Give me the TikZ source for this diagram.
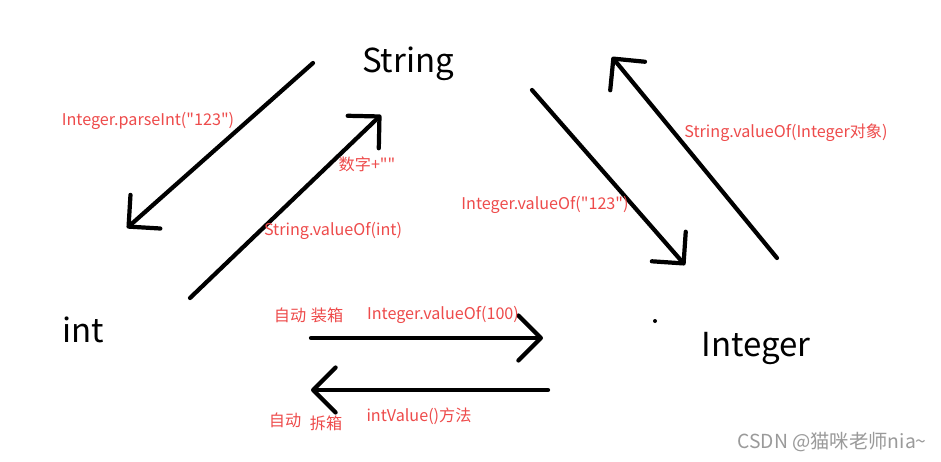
\documentclass[tikz,border=0pt]{standalone}
\usepackage{fontspec}
\usepackage{xcolor}
\usetikzlibrary{arrows.meta}
\setmainfont{Noto Sans CJK SC}[Ligatures=TeXOff]
\definecolor{labelred}{HTML}{EE4B4B}
\definecolor{markgray}{HTML}{9A9A9A}
\tikzset{
  typename/.style={font=\fontsize{18.8}{22}\selectfont, inner sep=0pt},
  convlabel/.style={font=\fontsize{9.2}{11}\selectfont, text=labelred, inner sep=0pt},
  convarrow/.style={line width=2.4pt, line cap=round,
                    -{Straight Barb[length=4.5mm, width=9mm, line cap=round, round]}},
}

\begin{document}
\begin{tikzpicture}[x=0.02cm, y=-0.02cm]
    \useasboundingbox[fill=white] (0,0) rectangle (941,461);
    % the three types
    \node[typename] (str) at (408, 64) {String};
    \node[typename] (prim) at (83, 330) {int};
    \node[typename] (wrap) at (756, 349) {Integer};
    % arrow ends
    \coordinate (pa) at (313, 63);
    \coordinate (pb) at (127, 228);
    \coordinate (va) at (190, 298);
    \coordinate (vb) at (381, 115);
    \coordinate (ia) at (532, 90);
    \coordinate (ib) at (685, 265);
    \coordinate (sa) at (777, 258);
    \coordinate (sb) at (612, 57);
    \coordinate (ba) at (311, 338);
    \coordinate (bb) at (543, 338);
    \coordinate (ua) at (548, 390);
    \coordinate (ub) at (311, 390);
    \draw[convarrow] (pa) -- (pb);
    \draw[convarrow] (va) -- (vb);
    \draw[convarrow] (ia) -- (ib);
    \draw[convarrow] (sa) -- (sb);
    \draw[convarrow] (ba) -- (bb);
    \draw[convarrow] (ua) -- (ub);
    % labels
    \node[convlabel] (lparse) at (148, 121) {Integer.parseInt("123")};
    \node[convlabel] (lplus) at (367, 164) {数字+""};
    \node[convlabel] (lvint) at (333, 231) {String.valueOf(int)};
    \node[convlabel] (lvstr) at (545, 205) {Integer.valueOf("123")};
    \node[convlabel] (lvobj) at (786, 133) {String.valueOf(Integer对象)};
    \node[convlabel] (lauto1) at (290, 315) {自动};
    \node[convlabel] (lbox) at (327, 315) {装箱};
    \node[convlabel] (lv100) at (443, 315) {Integer.valueOf(100)};
    \node[convlabel] (lauto2) at (285, 420) {自动};
    \node[convlabel] (lunbox) at (326, 423) {拆箱};
    \node[convlabel] (lint) at (419, 416) {intValue()方法};
    \fill (655, 321) circle (2);
    \node[font=\fontsize{11}{13}\selectfont, text=markgray, inner sep=0pt] (mark) at (832, 442) {CSDN @猫咪老师nia\textasciitilde};
  \end{tikzpicture}
\end{document}
